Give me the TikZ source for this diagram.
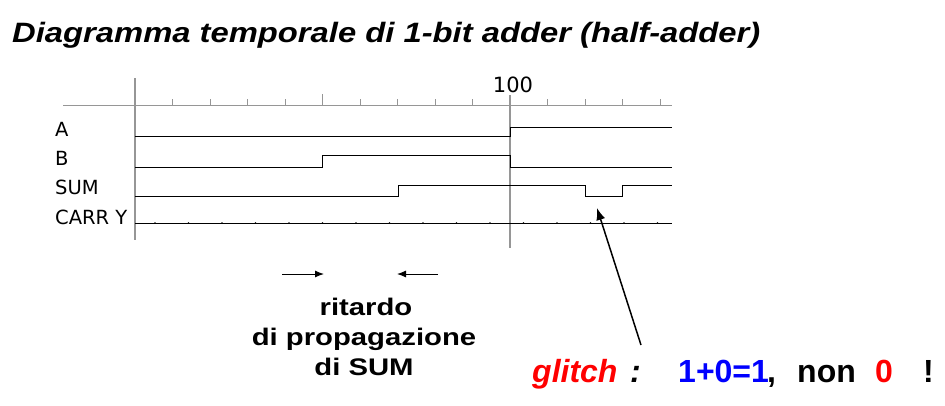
\documentclass[tikz,border=0pt]{standalone}
\usepackage{fontspec}
\usepackage{graphicx}
\setmainfont{Liberation Sans}
\newfontfamily\labelfont{DejaVu Sans}
\usetikzlibrary{arrows.meta}
\definecolor{glitchred}{RGB}{255,0,0}
\definecolor{sumblue}{RGB}{0,0,255}
\definecolor{axisgray}{RGB}{150,150,150}
\tikzset{
	signal/.style={line width=0.8pt},
	timeaxis/.style={axisgray, line width=0.8pt},
	marker/.style={axisgray, line width=1.6pt},
	siglabel/.style={anchor=base west, inner sep=0pt, font=\labelfont\fontsize{19.5}{19.5}\selectfont},
	delaytext/.style={anchor=base, inner sep=0pt, font=\bfseries\fontsize{24}{24}\selectfont},
	notetext/.style={anchor=base west, inner sep=0pt, font=\bfseries\fontsize{32}{32}\selectfont},
}
\newcommand{\wide}[1]{\scalebox{1.22}[1]{#1}}
\begin{document}
\begin{tikzpicture}[x=1pt,y=-1pt]
		\useasboundingbox (0,0) rectangle (945,405);
		\node[anchor=base west, inner sep=0pt, font=\bfseries\itshape\fontsize{28}{28}\selectfont] (title) at (12,42) {\scalebox{1.17}[1]{Diagramma temporale di 1-bit adder (half-adder)}};
		% asse dei tempi
		\draw[timeaxis] (63,105) -- (672,105);
		\foreach \x in {172.5,210,...,660}
		{
			\draw[timeaxis] (\x,105) -- (\x,99);
		}
		\draw[timeaxis] (322.5,105) -- (322.5,94);
		\draw[marker] (135,78) -- (135,240);
		\draw[marker] (510,95) -- (510,248);
		\node[anchor=base, inner sep=0pt, font=\labelfont\fontsize{21}{21}\selectfont] (cento) at (513,92) {100};
		% segnali
		\node[siglabel] (labA) at (55,136) {A};
		\node[siglabel] (labB) at (55,165) {B};
		\node[siglabel] (labSUM) at (55,194) {SUM};
		\node[siglabel] (labCARRY) at (55,224) {CARR Y};
		\draw[signal] (135,136) -- (510,136) -- (510,127) -- (672,127);
		\draw[signal] (135,167) -- (322.5,167) -- (322.5,155) -- (510,155) -- (510,167) -- (672,167);
		\draw[signal] (135,196) -- (398,196) -- (398,185) -- (585,185) -- (585,196) -- (622,196) -- (622,185) -- (672,185);
		\draw[signal] (135,223) -- (672,223);
		\foreach \x in {155,188.5,...,672}
		{
			\fill (\x,223) circle (0.9pt);
		}
		% ritardo
		\coordinate (d1s) at (282,274);
		\coordinate (d1e) at (324,274);
		\coordinate (d2s) at (438,274);
		\coordinate (d2e) at (397,274);
		\draw[line width=1pt, -{Latex[length=9pt,width=7pt]}] (d1s) -- (d1e);
		\draw[line width=1pt, -{Latex[length=9pt,width=7pt]}] (d2s) -- (d2e);
		\node[delaytext] (rit1) at (366,315) {\wide{ritardo}};
		\node[delaytext] (rit2) at (364,345) {\wide{di propagazione}};
		\node[delaytext] (rit3) at (364,375) {\wide{di SUM}};
		% glitch
		\coordinate (gtail) at (641,345);
		\coordinate (gtip) at (597,208);
		\draw[line width=1.5pt, -{Latex[length=12pt,width=9pt]}] (gtail) -- (gtip);
		\node[notetext, glitchred, font=\bfseries\itshape\fontsize{32}{32}\selectfont] (glitch) at (532,382) {glitch};
		\node[notetext, font=\bfseries\itshape\fontsize{32}{32}\selectfont] (colon) at (630,382) {:};
		\node[notetext, sumblue] (somma) at (678,382) {1+0=1};
		\node[notetext] (virgola) at (767,382) {,};
		\node[notetext] (non) at (797,382) {non};
		\node[notetext, glitchred] (zero) at (875,382) {0};
		\node[notetext] (esclam) at (923,382) {!};
\end{tikzpicture}
\end{document}
